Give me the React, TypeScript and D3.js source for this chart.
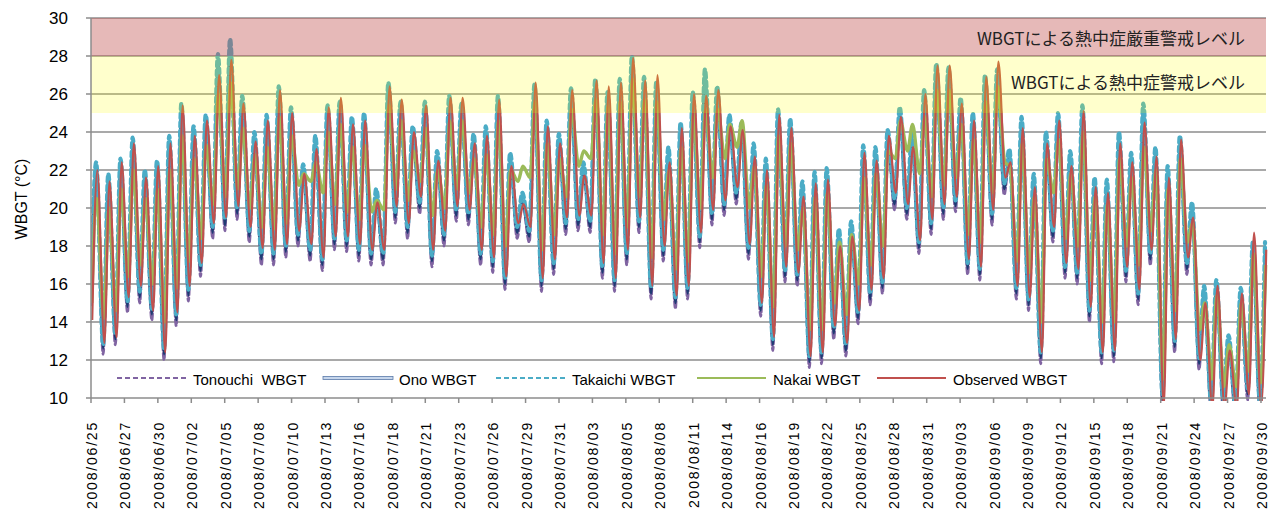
import React, { useEffect, useRef } from "react";
import * as d3 from "d3";

// x軸ラベル (2.75日おき)
const dateLabels = [
  "2008/06/25", "2008/06/27", "2008/06/30", "2008/07/02", "2008/07/05", "2008/07/08",
  "2008/07/10", "2008/07/13", "2008/07/16", "2008/07/18", "2008/07/21", "2008/07/23",
  "2008/07/26", "2008/07/29", "2008/07/31", "2008/08/03", "2008/08/05", "2008/08/08",
  "2008/08/11", "2008/08/14", "2008/08/16", "2008/08/19", "2008/08/22", "2008/08/25",
  "2008/08/28", "2008/08/31", "2008/09/03", "2008/09/06", "2008/09/09", "2008/09/12",
  "2008/09/15", "2008/09/18", "2008/09/21", "2008/09/24", "2008/09/27", "2008/09/30",
];
const yTicks = [10, 12, 14, 16, 18, 20, 22, 24, 26, 28, 30];

// daily low / high (06/25 .. 09/30)
const obsLo = [
  14.1, 12.9, 13.2, 15.3, 15.9, 14.6, 12.4, 14.5, 15.9, 17.1, 19.2, 19.5, 20.1, 19.0, 17.9, 17.8, 18.1,
  18.8, 18.1, 17.4, 18.5, 18.5, 18.1, 17.8, 17.8, 20.1, 19.2, 20.6, 17.8, 18.8, 20.1, 19.9,
  17.8, 17.4, 16.4, 19.2, 19.0, 16.3, 17.3, 19.5, 19.6, 19.6, 17.1, 16.3, 17.8, 19.5, 15.9, 18.0, 15.4,
  15.9, 18.7, 19.9, 20.4, 21.1, 18.1, 15.0, 13.2, 16.9, 16.6, 12.2, 12.4, 13.8, 12.9, 14.6, 15.7, 16.3,
  20.8, 20.2, 18.3, 19.4, 20.2, 20.6, 17.3, 16.9, 19.9, 21.6, 15.9, 15.3, 12.4, 19.0, 17.1, 16.8, 14.8,
  12.4, 12.5, 16.9, 15.7, 17.8, 9.5, 13.1, 17.4, 12.0, 9.5, 9.5, 9.5, 10.2, 9.5,
];
const obsHi = [
  22.0, 21.4, 22.4, 23.4, 21.6, 22.2, 23.4, 25.4, 23.8, 24.6, 27.0, 27.8, 25.5, 23.5, 24.6, 26.2, 25.0,
  21.8, 23.1, 25.3, 25.8, 24.4, 24.6, 20.3, 26.4, 25.7, 24.0, 25.4, 22.5, 25.8, 25.8, 23.4,
  23.8, 25.7, 22.2, 20.2, 26.6, 24.3, 23.4, 26.2, 21.7, 26.7, 26.4, 26.6, 27.9, 26.7, 27.0, 22.4, 24.2,
  26.0, 25.9, 26.2, 24.3, 24.1, 22.7, 22.0, 24.9, 24.2, 20.6, 21.3, 21.5, 18.0, 18.5, 22.9, 22.5, 23.8,
  24.8, 23.2, 26.0, 27.5, 27.5, 25.5, 24.6, 26.9, 27.7, 22.4, 24.2, 21.1, 23.4, 24.6, 22.2, 25.1, 21.1,
  20.8, 23.4, 22.4, 24.5, 22.7, 21.6, 23.6, 19.5, 15.0, 15.9, 12.5, 15.5, 18.7, 17.8,
];
const tkLo = [
  15.5, 12.8, 13.4, 15.1, 15.6, 14.7, 12.6, 14.4, 15.7, 17.0, 19.0, 19.4, 20.0, 18.8, 17.6, 17.6, 18.0,
  18.6, 17.8, 17.3, 18.4, 18.3, 17.8, 17.6, 17.6, 19.8, 19.0, 20.3, 17.5, 18.6, 19.9, 19.7,
  17.6, 17.2, 16.3, 19.0, 18.8, 16.2, 17.1, 19.2, 19.4, 19.3, 16.9, 16.2, 17.6, 19.3, 15.8, 17.8, 15.3,
  15.8, 18.5, 19.7, 20.2, 20.8, 17.9, 14.9, 13.1, 16.7, 16.5, 12.2, 12.4, 13.7, 12.8, 14.5, 15.5, 16.1,
  20.5, 20.0, 18.2, 19.2, 20.0, 20.4, 17.1, 16.8, 19.7, 21.3, 15.8, 15.2, 12.4, 18.8, 16.9, 16.6, 14.6,
  12.4, 12.5, 16.7, 15.5, 17.6, 10.2, 13.0, 17.1, 12.1, 9.8, 9.9, 9.6, 10.5, 9.8,
];
const tkHi = [
  22.4, 21.8, 22.6, 23.7, 22.0, 22.5, 23.8, 25.5, 24.3, 24.9, 28.1, 28.9, 25.9, 24.0, 24.9, 26.4, 25.3,
  22.3, 23.8, 25.4, 25.6, 24.8, 25.0, 21.0, 26.6, 25.6, 24.3, 25.6, 23.0, 25.9, 25.5, 23.9,
  24.3, 25.9, 22.9, 20.8, 26.5, 24.6, 23.9, 26.3, 22.4, 26.8, 26.1, 26.8, 28.0, 26.9, 26.6, 23.2, 24.5,
  26.1, 27.3, 26.4, 24.9, 24.5, 23.4, 22.6, 25.2, 24.7, 21.4, 21.9, 22.1, 18.9, 19.3, 23.3, 23.2, 24.1,
  25.3, 23.9, 26.2, 27.6, 27.4, 25.8, 25.0, 27.0, 27.3, 23.1, 24.8, 21.8, 24.0, 25.0, 23.0, 25.4, 21.6,
  21.5, 24.0, 22.9, 25.5, 23.2, 22.2, 23.8, 20.3, 15.9, 16.2, 13.3, 15.8, 18.2, 18.2,
];
const onLo = [
  15.2, 12.6, 13.1, 14.8, 15.3, 14.4, 12.3, 14.1, 15.4, 16.7, 18.7, 19.1, 19.7, 18.5, 17.3, 17.3, 17.7,
  18.3, 17.5, 17.0, 18.1, 18.0, 17.5, 17.3, 17.3, 19.5, 18.7, 20.0, 17.2, 18.3, 19.6, 19.4,
  17.3, 16.9, 16.0, 18.7, 18.5, 15.9, 16.8, 18.9, 19.1, 19.0, 16.6, 15.9, 17.3, 19.0, 15.5, 17.5, 15.0,
  15.5, 18.2, 19.4, 19.9, 20.5, 17.6, 14.6, 12.8, 16.4, 16.2, 11.9, 12.1, 13.4, 12.5, 14.2, 15.2, 15.8,
  20.2, 19.7, 17.9, 18.9, 19.7, 20.1, 16.8, 16.5, 19.4, 21.0, 15.5, 14.9, 12.1, 18.5, 16.6, 16.3, 14.3,
  12.1, 12.2, 16.4, 15.2, 17.3, 9.9, 12.7, 16.8, 11.8, 9.5, 9.6, 9.3, 10.2, 9.5,
];
const onHi = [
  22.0, 21.4, 22.2, 23.3, 21.6, 22.1, 23.4, 25.1, 23.9, 24.5, 27.6, 28.5, 25.5, 23.6, 24.5, 26.0, 24.9,
  21.9, 23.4, 25.0, 25.2, 24.4, 24.6, 20.6, 26.2, 25.2, 23.9, 25.2, 22.6, 25.5, 25.1, 23.5,
  23.9, 25.5, 22.5, 20.4, 26.1, 24.2, 23.5, 25.9, 22.0, 26.4, 25.7, 26.4, 27.6, 26.5, 26.2, 22.8, 24.1,
  25.7, 26.9, 26.0, 24.5, 24.1, 23.0, 22.2, 24.8, 24.3, 21.0, 21.5, 21.7, 18.5, 18.9, 22.9, 22.8, 23.7,
  24.9, 23.5, 25.8, 27.2, 27.0, 25.4, 24.6, 26.6, 26.9, 22.7, 24.4, 21.4, 23.6, 24.6, 22.6, 25.0, 21.2,
  21.1, 23.6, 22.5, 25.1, 22.8, 21.8, 23.4, 19.9, 15.5, 15.8, 12.9, 15.4, 17.8, 17.8,
];
const toLo = [
  14.9, 12.3, 12.8, 14.5, 15.0, 14.1, 12.0, 13.8, 15.1, 16.4, 18.4, 18.8, 19.4, 18.2, 17.0, 17.0, 17.4,
  18.0, 17.2, 16.7, 17.8, 17.7, 17.2, 17.0, 17.0, 19.2, 18.4, 19.7, 16.9, 18.0, 19.3, 19.1,
  17.0, 16.6, 15.7, 18.4, 18.2, 15.6, 16.5, 18.6, 18.8, 18.7, 16.3, 15.6, 17.0, 18.7, 15.2, 17.2, 14.7,
  15.2, 17.9, 19.1, 19.6, 20.2, 17.3, 14.3, 12.5, 16.1, 15.9, 11.6, 11.8, 13.1, 12.2, 13.9, 14.9, 15.5,
  19.9, 19.4, 17.6, 18.6, 19.4, 19.8, 16.5, 16.2, 19.1, 20.7, 15.2, 14.6, 11.8, 18.2, 16.3, 16.0, 14.0,
  11.8, 11.9, 16.1, 14.9, 17.0, 9.6, 12.4, 16.5, 11.5, 9.2, 9.3, 9.0, 9.9, 9.2,
];
const toHi = [
  21.9, 21.3, 22.1, 23.2, 21.5, 22.0, 23.3, 25.0, 23.8, 24.4, 27.7, 28.7, 25.4, 23.5, 24.4, 25.9, 24.8,
  21.8, 23.3, 24.9, 25.1, 24.3, 24.5, 20.5, 26.1, 25.1, 23.8, 25.1, 22.5, 25.4, 25.0, 23.4,
  23.8, 25.4, 22.4, 20.3, 26.0, 24.1, 23.4, 25.8, 21.9, 26.3, 25.6, 26.3, 27.5, 26.4, 26.1, 22.7, 24.0,
  25.6, 26.8, 25.9, 24.4, 24.0, 22.9, 22.1, 24.7, 24.2, 20.9, 21.4, 21.6, 18.4, 18.8, 22.8, 22.7, 23.6,
  24.8, 23.4, 25.7, 27.1, 26.9, 25.3, 24.5, 26.5, 26.8, 22.6, 24.3, 21.3, 23.5, 24.5, 22.5, 24.9, 21.1,
  21.0, 23.5, 22.4, 25.0, 22.7, 21.7, 23.3, 19.8, 15.4, 15.7, 12.8, 15.3, 17.7, 17.7,
];
const nkLo = [
  15.0, 14.2, 14.6, 16.4, 17.0, 16.0, 14.0, 15.8, 17.2, 18.4, 20.2, 20.6, 21.0, 20.0, 19.0, 18.9, 19.2,
  21.2, 21.4, 20.8, 20.2, 19.8, 19.4, 19.8, 19.9, 21.0, 20.4, 21.4, 19.6, 20.0, 21.0, 20.8,
  19.0, 18.6, 18.0, 21.4, 21.6, 17.8, 18.6, 20.6, 22.2, 22.6, 18.6, 17.6, 19.0, 20.6, 17.4, 19.4, 16.8,
  17.2, 20.0, 21.6, 22.6, 23.2, 20.0, 16.4, 14.8, 18.0, 17.8, 13.6, 13.6, 15.0, 14.4, 16.0, 17.0, 18.0,
  22.6, 23.0, 21.8, 20.6, 21.2, 21.6, 18.6, 18.2, 20.8, 22.4, 17.2, 16.6, 14.0, 20.8, 18.4, 18.0, 16.2,
  14.0, 14.0, 18.0, 17.0, 18.8, 11.0, 14.6, 18.2, 13.6, 11.0, 10.6, 10.6, 11.4, 10.8,
];
const nkHi = [
  20.5, 20.0, 21.0, 22.0, 20.5, 21.0, 22.0, 23.8, 22.6, 23.3, 26.0, 26.6, 24.2, 22.8, 23.2, 24.8, 23.8,
  21.8, 22.4, 24.0, 24.4, 23.2, 23.3, 20.4, 25.4, 24.6, 23.0, 24.2, 22.0, 24.6, 24.6, 22.6,
  22.8, 24.6, 22.0, 22.2, 25.6, 23.4, 22.6, 25.2, 23.0, 25.7, 25.4, 25.6, 26.8, 25.7, 25.6, 22.0, 23.2,
  25.0, 25.2, 25.2, 24.4, 24.6, 22.2, 21.2, 23.8, 23.4, 20.0, 20.6, 20.8, 18.2, 18.6, 21.6, 21.8, 23.0,
  24.6, 24.4, 24.8, 26.2, 26.2, 24.4, 23.6, 25.6, 26.4, 22.2, 23.4, 20.6, 22.6, 23.6, 21.8, 24.0, 20.6,
  20.2, 22.6, 21.6, 23.2, 22.0, 21.0, 22.6, 19.2, 15.0, 15.4, 12.8, 15.0, 17.6, 17.0,
];

const seriesNames = ["Tonouchi  WBGT", "Ono WBGT", "Takaichi WBGT", "Nakai WBGT", "Observed WBGT"];
const bandTexts = ["WBGTによる熱中症厳重警戒レベル", "WBGTによる熱中症警戒レベル"];

const App = () => {
  const svgRef = useRef(null);

  useEffect(() => {
    const svg = d3.select(svgRef.current);
    svg.selectAll("*").remove();

    const left = 91, right = 1266, top = 18, bottom = 398;
    const x = d3.scaleLinear().domain([0, 96.5]).range([left, right]);
    const y = d3.scaleLinear().domain([10, 30]).range([bottom, top]);
    const xLab = d3.scaleLinear().domain([0, 35.15]).range([left, right]);
    const grid = "#8c8c8c";
    const latin = "'Liberation Sans', Arial, sans-serif";

    // gridlines
    svg.append("g")
      .selectAll("line")
      .data(yTicks.filter((t) => t > 10))
      .enter()
      .append("line")
      .attr("x1", left)
      .attr("x2", right)
      .attr("y1", (d) => y(d))
      .attr("y2", (d) => y(d))
      .attr("stroke", grid)
      .attr("stroke-width", 1.5);

    svg.append("clipPath").attr("id", "plotClip")
      .append("rect")
      .attr("x", left).attr("y", top - 4)
      .attr("width", right - left + 2).attr("height", bottom - top + 7);

    // lo (early morning) then hi (afternoon) for each day; phase differs a little per series
    const toPoints = (lo, hi, p) => lo.flatMap((l, i) => [[i + p[0], l], [i + p[1], hi[i]]]);
    const line = d3.line().x((d) => x(d[0])).y((d) => y(d[1])).curve(d3.curveMonotoneX);

    const series = [
      { lo: toLo, hi: toHi, color: "#8064A2", width: 2.8, dash: "6,3", phase: [0, 0.42] },
      { lo: onLo, hi: onHi, color: "#1F3B73", width: 2.4, dash: null, phase: [0, 0.42] },
      { lo: tkLo, hi: tkHi, color: "#4BACC6", width: 4.2, dash: "5,4", phase: [0, 0.42] },
      { lo: nkLo, hi: nkHi, color: "#9BBB59", width: 3.4, dash: null, phase: [0.06, 0.47] },
      { lo: obsLo, hi: obsHi, color: "#C0504D", width: 2.2, dash: null, phase: [0.1, 0.52] },
    ];

    const lines = svg.append("g").attr("clip-path", "url(#plotClip)");
    series.forEach((s) => {
      lines.append("path")
        .attr("d", line(toPoints(s.lo, s.hi, s.phase)))
        .attr("fill", "none")
        .attr("stroke", s.color)
        .attr("stroke-width", s.width)
        .attr("stroke-dasharray", s.dash)
        .attr("stroke-linecap", s.dash ? "round" : "butt")
        .attr("stroke-linejoin", "round");
    });

    // 警戒レベルの帯 (半透明で線の上に重ねる)
    svg.append("rect")
      .attr("x", left).attr("y", y(30))
      .attr("width", right - left).attr("height", y(28) - y(30))
      .attr("fill", "#C0504D").attr("opacity", 0.4);
    svg.append("rect")
      .attr("x", left).attr("y", y(28))
      .attr("width", right - left).attr("height", y(25) - y(28))
      .attr("fill", "#FFFF00").attr("opacity", 0.2);

    svg.selectAll(".bandText")
      .data(bandTexts)
      .enter()
      .append("text")
      .attr("x", 1245)
      .attr("y", (_, i) => (i === 0 ? y(28.9) : y(26.6)))
      .attr("dy", "0.36em")
      .attr("text-anchor", "end")
      .style("font-family", "'Noto Sans CJK JP', sans-serif")
      .style("font-size", "17px")
      .attr("fill", "#222")
      .text((d) => d);

    // y axis
    svg.append("line")
      .attr("x1", left).attr("x2", left).attr("y1", top).attr("y2", bottom)
      .attr("stroke", grid).attr("stroke-width", 1.5);
    svg.append("g")
      .selectAll("line")
      .data(yTicks)
      .enter()
      .append("line")
      .attr("x1", left - 5).attr("x2", left)
      .attr("y1", (d) => y(d)).attr("y2", (d) => y(d))
      .attr("stroke", grid).attr("stroke-width", 1.5);
    svg.append("g")
      .selectAll("text")
      .data(yTicks)
      .enter()
      .append("text")
      .attr("x", 68)
      .attr("y", (d) => y(d))
      .attr("dy", "0.36em")
      .attr("text-anchor", "end")
      .style("font-family", latin)
      .style("font-size", "17px")
      .text((d) => d);
    svg.append("text")
      .attr("transform", "translate(21,199) rotate(-90)")
      .attr("dy", "0.36em")
      .attr("text-anchor", "middle")
      .style("font-family", latin)
      .style("font-size", "16px")
      .text("WBGT (°C)");

    // x axis
    svg.append("line")
      .attr("x1", left).attr("x2", right).attr("y1", bottom).attr("y2", bottom)
      .attr("stroke", grid).attr("stroke-width", 1.5);
    svg.append("g")
      .selectAll("line")
      .data(dateLabels)
      .enter()
      .append("line")
      .attr("x1", (_, i) => xLab(i)).attr("x2", (_, i) => xLab(i))
      .attr("y1", bottom).attr("y2", bottom + 5)
      .attr("stroke", grid).attr("stroke-width", 1.5);
    // 縦書きの日付ラベル (下端・右端に収まるよう調整)
    svg.append("g")
      .selectAll("text")
      .data(dateLabels)
      .enter()
      .append("text")
      .attr("transform", (_, i) => `translate(${xLab(i) + 1},421) rotate(-90)`)
      .attr("dy", "0.36em")
      .attr("text-anchor", "end")
      .style("font-family", latin)
      .style("font-size", "14px")
      .style("letter-spacing", "1.8px")
      .text((d) => d);

    // 凡例
    const legendX = [117, 323, 496, 697, 877];
    const legend = svg.append("g");
    series.forEach((s, i) => {
      if (i === 1) {
        legend.append("rect")
          .attr("x", legendX[i]).attr("y", 376.5)
          .attr("width", 70).attr("height", 3)
          .attr("fill", "#C6D6EC").attr("stroke", "#5A7BAA").attr("stroke-width", 0.8);
      } else {
        legend.append("line")
          .attr("x1", legendX[i]).attr("x2", legendX[i] + 69)
          .attr("y1", 378).attr("y2", 378)
          .attr("stroke", s.color)
          .attr("stroke-width", 1.8)
          .attr("stroke-dasharray", s.dash ? "5,3" : null);
      }
      legend.append("text")
        .attr("x", legendX[i] + 76)
        .attr("y", 385)
        .style("font-family", latin)
        .style("font-size", "15px")
        .style("white-space", "pre")
        .text(seriesNames[i]);
    });
  }, []);

  return (
    <svg
      ref={svgRef}
      width={1270}
      height={515}
      style={{ position: "absolute", left: 0, top: 0, background: "#fff" }}
    />
  );
};

export default App;
